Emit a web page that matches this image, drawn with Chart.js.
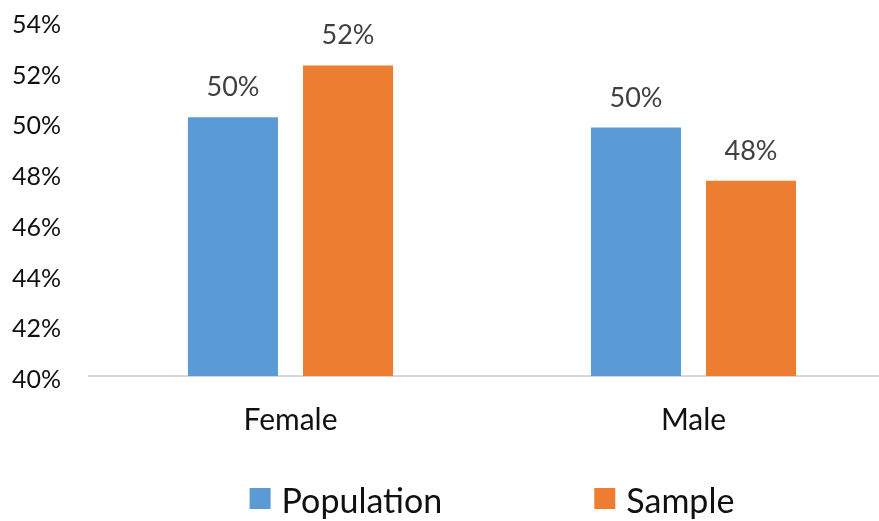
<!DOCTYPE html>
<html>
<head>
<meta charset="utf-8">
<script src="https://cdn.jsdelivr.net/npm/chart.js@4.4.1/dist/chart.umd.min.js"></script>
<style>
  html, body { margin: 0; padding: 0; background: #fff; overflow: hidden; }
  #wrap { width: 980px; height: 521px; position: relative; }
</style>
</head>
<body>
<div id="wrap"><canvas id="barChart"></canvas></div>
<script>
// Categories and series (percent)
const categories = ['Female', 'Male'];
const seriesNames = ['Population', 'Sample'];
const populationValues = [50.2, 49.8];
const sampleValues = [52.25, 47.7];
const yTicks = [40, 42, 44, 46, 48, 50, 52, 54];

const colors = ['#5B9BD5', '#ED7D31'];
const FONT = 'Lato, "Open Sans", sans-serif';

// Draws the rounded value above each bar
const valueLabels = {
  id: 'valueLabels',
  afterDatasetsDraw(chart) {
    const ctx = chart.ctx;
    ctx.save();
    ctx.font = '27px ' + FONT;
    ctx.fillStyle = '#404040';
    ctx.textAlign = 'center';
    ctx.textBaseline = 'alphabetic';
    chart.data.datasets.forEach((ds, i) => {
      chart.getDatasetMeta(i).data.forEach((bar, j) => {
        ctx.fillText(Math.round(ds.data[j]) + '%', bar.x, bar.y - 21);
      });
    });
    ctx.restore();
  }
};

// Legend drawn by hand, to get the wide gap between the two entries
const wideLegend = {
  id: 'wideLegend',
  afterDraw(chart) {
    const ctx = chart.ctx;
    const box = 21, boxGap = 11, itemGap = 152;
    ctx.save();
    ctx.font = '34px ' + FONT;
    const widths = chart.data.datasets.map(ds => ctx.measureText(ds.label).width);
    let total = 0;
    widths.forEach((w, i) => { total += box + boxGap + w + (i ? itemGap : 0); });
    const ca = chart.chartArea;
    let x = (ca.left + ca.right) / 2 - total / 2;
    chart.data.datasets.forEach((ds, i) => {
      ctx.fillStyle = ds.backgroundColor;
      ctx.fillRect(x, 488, box, box);
      x += box + boxGap;
      ctx.fillStyle = '#111';
      ctx.textBaseline = 'alphabetic';
      ctx.fillText(ds.label, x, 513);
      x += widths[i] + itemGap;
    });
    ctx.restore();
  }
};

new Chart(document.getElementById('barChart').getContext('2d'), {
  type: 'bar',
  data: {
    labels: categories,
    datasets: [
      { label: seriesNames[0], data: populationValues, backgroundColor: colors[0] },
      { label: seriesNames[1], data: sampleValues, backgroundColor: colors[1] }
    ]
  },
  options: {
    responsive: true,
    maintainAspectRatio: false,
    animation: false,
    categoryPercentage: 0.571,
    barPercentage: 0.783,
    layout: { padding: { top: 21, right: 85, left: 0, bottom: 0 } },
    scales: {
      x: {
        grid: { display: false, drawTicks: false },
        border: { display: true, color: '#d9d9d9', width: 2 },
        ticks: { color: '#111', padding: 26, font: { family: FONT, size: 30 } },
        afterFit(scale) { scale.height = 145; }
      },
      y: {
        min: 40,
        max: 54,
        afterBuildTicks(scale) { scale.ticks = yTicks.map(v => ({ value: v })); },
        grid: { display: false, drawTicks: false },
        border: { display: false },
        ticks: {
          color: '#111',
          padding: 28,
          labelOffset: 4,
          font: { family: FONT, size: 25 },
          callback: v => v + '%'
        },
        afterFit(scale) {
          scale.width = 89;
          scale.paddingTop = 0;
          scale.paddingBottom = 0;
        }
      }
    },
    plugins: {
      legend: { display: false },
      tooltip: { enabled: false }
    }
  },
  plugins: [valueLabels, wideLegend]
});
</script>
</body>
</html>
